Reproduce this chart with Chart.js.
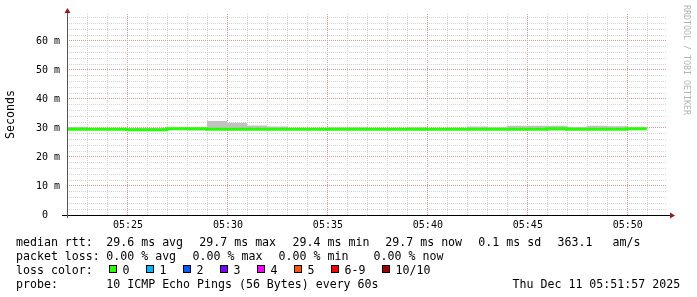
<!DOCTYPE html>
<html>
<head>
<meta charset="utf-8">
<script src="https://cdn.jsdelivr.net/npm/chart.js@4/dist/chart.umd.min.js"></script>
<style>
  html, body { margin: 0; padding: 0; background: #fff; }
  #wrap { position: relative; width: 697px; height: 297px; overflow: hidden; }
  canvas { position: absolute; left: 0; top: 0; }
  .txt { position: absolute; font-family: "DejaVu Sans Mono", monospace; font-size: 11.6px;
         line-height: 14px; white-space: pre; color: #000; }
  .box { position: absolute; box-sizing: border-box; width: 8px; height: 8px;
         border: 1px solid #000; }
  #mark { position: absolute; left: 682px; top: 5px; writing-mode: vertical-rl;
          font-family: "DejaVu Sans Mono", monospace; font-size: 8.3px; color: #b4b4b4;
          white-space: pre; }
</style>
</head>
<body>
<div id="wrap">
  <canvas id="chart" width="697" height="297"></canvas>
  <div id="mark">RRDTOOL / TOBI OETIKER</div>
  <div id="legend"></div>
</div>
<script>
// one step per minute, start times of each step (last entry closes the last step)
const stepTimes = ['05:21:57','05:22:57','05:23:57','05:24:57','05:25:57','05:26:57','05:27:57','05:28:57',
  '05:29:57','05:30:57','05:31:57','05:32:57','05:33:57','05:34:57','05:35:57','05:36:57','05:37:57',
  '05:38:57','05:39:57','05:40:57','05:41:57','05:42:57','05:43:57','05:44:57','05:45:57','05:46:57',
  '05:47:57','05:48:57','05:49:57','05:50:57'];
const graphStart = '05:21:57';
const graphEnd = '05:51:57';

// median rtt per step (ms)
const medianRtt = [29.6, 29.6, 29.6, 29.4, 29.4, 29.7, 29.7, 29.6, 29.6, 29.6,
  29.6, 29.6, 29.6, 29.6, 29.6, 29.6, 29.6, 29.6, 29.6, 29.6,
  29.6, 29.6, 29.6, 29.6, 29.7, 29.6, 29.6, 29.6, 29.7];
// smoke: slowest and fastest ping per step (ms)
const smokeMax = [30.3, 29.8, 29.8, 29.9, 29.9, 30.0, 30.0, 32.4, 31.8, 30.9,
  30.5, 29.9, 29.9, 30.2, 30.2, 29.9, 29.9, 30.2, 30.0, 30.1,
  30.5, 30.2, 30.8, 30.8, 30.8, 30.3, 30.8, 30.6, 29.9];
const smokeMin = [29.3, 29.3, 29.3, 29.1, 29.1, 29.4, 29.1, 29.3, 29.3, 29.3,
  29.3, 29.3, 29.3, 29.3, 29.3, 29.3, 29.3, 29.3, 29.3, 29.3,
  29.3, 29.3, 29.3, 29.3, 29.1, 29.3, 29.3, 29.3, 29.4];

const xLabels = ['05:25', '05:30', '05:35', '05:40', '05:45', '05:50'];
const yMax = 69.3;

const lossLabels = ['0', '1', '2', '3', '4', '5', '6-9', '10/10'];
const lossColors = ['#26ff00', '#00b8ff', '#0059ff', '#7e00ff', '#ff00ff', '#ff5500', '#ff0000', '#a10000'];

// legend rows: [text, x] pieces, rows 14px apart
const legendRows = [
  [['median rtt:', 16], ['29.6 ms avg', 106.3], ['29.7 ms max', 199.3], ['29.4 ms min', 292.6],
   ['29.7 ms now', 385.3], ['0.1 ms sd', 478.3], ['363.1', 557.6], ['am/s', 612.6]],
  [['packet loss:', 16], ['0.00 % avg', 106.3], ['0.00 % max', 192.6], ['0.00 % min', 278.6],
   ['0.00 % now', 373.6]],
  [['loss color:', 16]],
  [['probe:', 16], ['10 ICMP Echo Pings (56 Bytes) every 60s', 106.3], ['Thu Dec 11 05:51:57 2025', 512.6]]
];
const lossBoxX = [108.5, 145.5, 182.5, 219.5, 256.5, 293.5, 330.5, 381.5];

const legend = document.getElementById('legend');
function addText(t, x, top) {
  const d = document.createElement('div');
  d.className = 'txt';
  d.textContent = t;
  d.style.left = x + 'px';
  d.style.top = top + 'px';
  legend.appendChild(d);
}
legendRows.forEach((row, r) => {
  row.forEach(p => addText(p[0], p[1], 234.5 + r * 14));
});
lossLabels.forEach((l, i) => {
  const b = document.createElement('div');
  b.className = 'box';
  b.style.left = lossBoxX[i] + 'px';
  b.style.top = '265px';
  b.style.background = lossColors[i];
  legend.appendChild(b);
  addText(l, lossBoxX[i] + 14, 262.5);
});

// minutes relative to 05:25
function toMin(s) {
  const p = s.split(':').map(Number);
  return p[0] * 60 + p[1] + p[2] / 60 - (5 * 60 + 25);
}

function steps(vals) {
  const pts = vals.map((v, i) => ({x: toMin(stepTimes[i]), y: v}));
  pts.push({x: toMin(stepTimes[vals.length]), y: vals[vals.length - 1]});
  return pts;
}

const axesPlugin = {
  id: 'rrdAxes',
  afterDraw(chart) {
    const ctx = chart.ctx;
    const a = chart.chartArea;
    ctx.save();
    ctx.lineWidth = 1;
    ctx.strokeStyle = '#000';
    ctx.beginPath();
    ctx.moveTo(a.left - 5, a.bottom + 0.5);
    ctx.lineTo(a.right + 4, a.bottom + 0.5);
    ctx.stroke();
    ctx.strokeStyle = '#555';
    ctx.beginPath();
    ctx.moveTo(a.left + 0.5, a.bottom + 3);
    ctx.lineTo(a.left + 0.5, a.top - 2);
    ctx.stroke();
    ctx.fillStyle = '#9b1c1c';
    ctx.beginPath();
    ctx.moveTo(a.left + 0.5, a.top - 6);
    ctx.lineTo(a.left - 2.5, a.top - 1);
    ctx.lineTo(a.left + 3.5, a.top - 1);
    ctx.closePath();
    ctx.fill();
    ctx.beginPath();
    ctx.moveTo(a.right + 8, a.bottom + 0.5);
    ctx.lineTo(a.right + 3, a.bottom - 2.5);
    ctx.lineTo(a.right + 3, a.bottom + 3.5);
    ctx.closePath();
    ctx.fill();
    ctx.restore();
  }
};

const majorGrid = '#e99494';
const minorGrid = '#d4d4d4';

new Chart(document.getElementById('chart').getContext('2d'), {
  type: 'line',
  data: {
    // median first: chart.js paints dataset 0 last, so it sits on the smoke
    datasets: [
      {
        data: steps(medianRtt),
        stepped: true,
        borderWidth: 3,
        borderColor: '#22ff00',
        borderCapStyle: 'butt',
        pointRadius: 0,
        fill: false
      },
      {
        data: steps(smokeMax),
        stepped: true,
        borderWidth: 0,
        pointRadius: 0,
        backgroundColor: '#c2c2c2',
        fill: '+1'
      },
      {
        data: steps(smokeMin),
        stepped: true,
        borderWidth: 0,
        pointRadius: 0,
        fill: false
      }
    ]
  },
  options: {
    responsive: false,
    animation: false,
    devicePixelRatio: 1,
    layout: {padding: {top: 14, right: 30, left: 0, bottom: 0}},
    plugins: {legend: {display: false}, tooltip: {enabled: false}},
    scales: {
      x: {
        type: 'linear',
        min: toMin(graphStart),
        // a hair past the end so ticks stay on whole minutes
        max: toMin(graphEnd) + 0.01,
        afterFit: s => { s.height = 82; },
        border: {display: false, dash: [1, 1]},
        grid: {
          drawTicks: false,
          color: c => (Math.round(c.tick.value) % 5 === 0 ? majorGrid : minorGrid)
        },
        ticks: {
          stepSize: 1,
          includeBounds: false,
          autoSkip: false,
          maxRotation: 0,
          padding: 4,
          color: '#000',
          font: {family: 'DejaVu Sans Mono', size: 10},
          callback: v => {
            const m = Math.round(v);
            return m % 5 === 0 && m >= 0 ? xLabels[m / 5] : '';
          }
        }
      },
      y: {
        min: 0,
        max: yMax,
        afterFit: s => { s.width = 67; },
        border: {display: false, dash: [1, 1]},
        grid: {
          drawTicks: false,
          color: c => (Math.round(c.tick.value) % 10 === 0 ? majorGrid : minorGrid)
        },
        ticks: {
          stepSize: 2,
          includeBounds: false,
          autoSkip: false,
          padding: 7,
          color: '#000',
          font: {family: 'DejaVu Sans Mono', size: 10},
          callback: v => {
            const m = Math.round(v);
            if (m % 10 !== 0) return '';
            return m === 0 ? '0  ' : m + ' m';
          }
        },
        title: {
          display: true,
          text: 'Seconds',
          color: '#000',
          padding: {top: 4, bottom: 0},
          font: {family: 'DejaVu Sans Mono', size: 11.6}
        }
      }
    }
  },
  plugins: [axesPlugin]
});
</script>
</body>
</html>
